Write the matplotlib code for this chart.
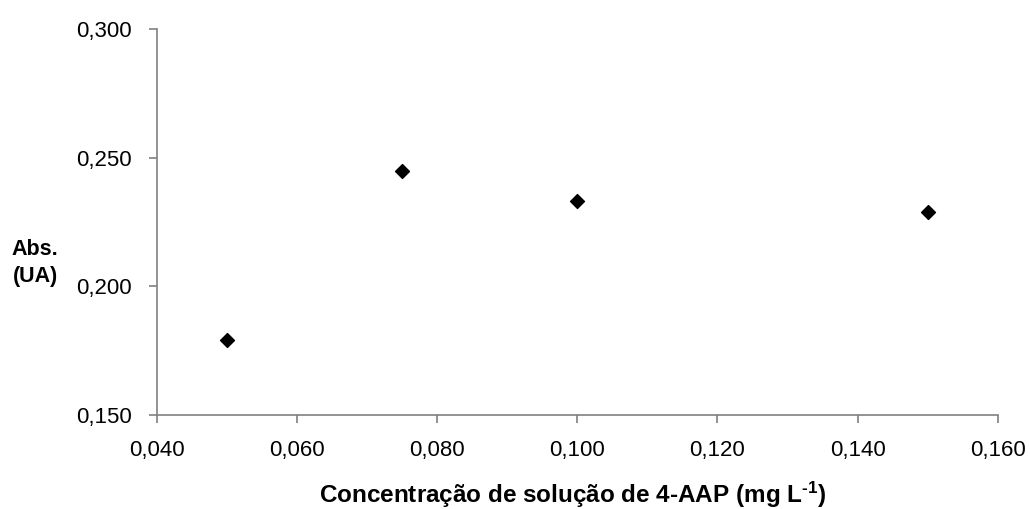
import matplotlib
matplotlib.use("Agg")
import matplotlib.pyplot as plt
from matplotlib.ticker import FuncFormatter

# dados
concentracao = [0.050, 0.075, 0.100, 0.150]
absorbancia = [0.179, 0.245, 0.233, 0.229]

plt.rcParams['font.family'] = ['Liberation Sans', 'DejaVu Sans']
plt.rcParams['mathtext.fontset'] = 'custom'
plt.rcParams['mathtext.rm'] = 'Liberation Sans:bold'
plt.rcParams['mathtext.bf'] = 'Liberation Sans:bold'
plt.rcParams['mathtext.default'] = 'bf'

fig = plt.figure(figsize=(10.30, 5.09), dpi=100)
ax = fig.add_axes([0.1524, 0.1847, 0.8162, 0.7583])

ax.scatter(concentracao, absorbancia, marker='D', s=50, color='black', zorder=3)

ax.set_xlim(0.040, 0.160)
ax.set_ylim(0.150, 0.300)
ax.set_xticks([0.040, 0.060, 0.080, 0.100, 0.120, 0.140, 0.160])
ax.set_yticks([0.150, 0.200, 0.250, 0.300])

virgula = FuncFormatter(lambda v, pos: f"{v:.3f}".replace('.', ','))
ax.xaxis.set_major_formatter(virgula)
ax.yaxis.set_major_formatter(virgula)

for lado in ['top', 'right']:
    ax.spines[lado].set_visible(False)
for lado in ['left', 'bottom']:
    ax.spines[lado].set_color('#808080')
    ax.spines[lado].set_linewidth(1.2)

ax.tick_params(axis='both', direction='out', length=6, width=1.2, color='#808080',
               labelsize=16, labelcolor='black')
ax.tick_params(axis='x', pad=12)
ax.tick_params(axis='y', pad=12)

fig.text(0.034, 0.483, 'Abs.\n(UA)', fontsize=15.5, fontweight='bold', ha='center', va='center',
         linespacing=1.4)
fig.text(0.556, 0.027, r'Concentração de solução de 4-AAP (mg L$^{\text{-1}}$)',
         fontsize=17.5, fontweight='bold', ha='center', va='center')

fig.savefig('out.png', dpi=100)
